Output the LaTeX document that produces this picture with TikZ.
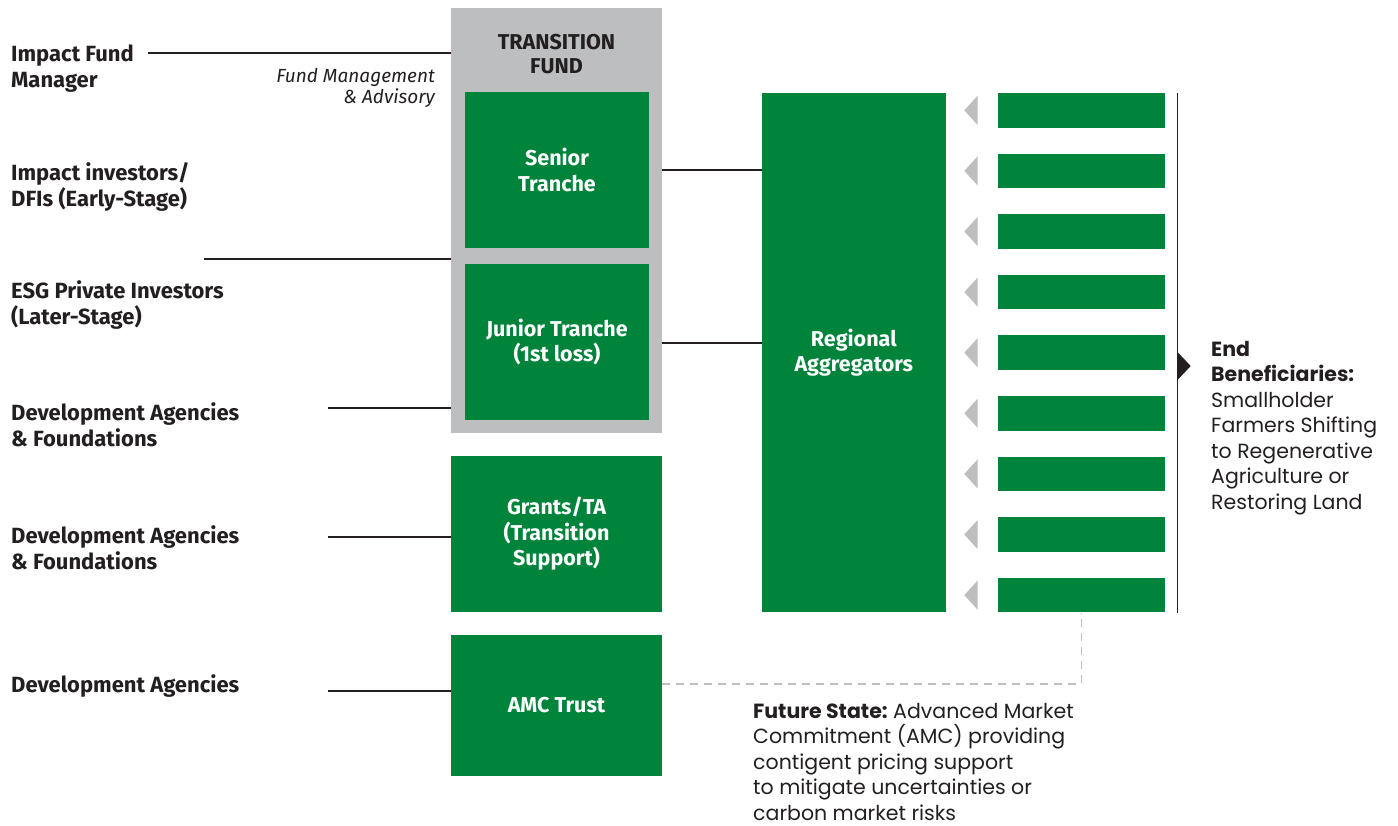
\documentclass[tikz,border=0pt]{standalone}
\usepackage{fontspec}
\setmainfont{Poppins}
\newfontfamily\condfont{Fira Sans}
\usetikzlibrary{positioning}
\definecolor{fundgreen}{HTML}{00833A}
\definecolor{fundgrey}{HTML}{BCBEC0}
\definecolor{ink}{HTML}{231F20}
\tikzset{
  greenbox/.style={fill=fundgreen, text=white, inner sep=0pt, align=center,
    font=\condfont\bfseries\fontsize{21.5}{25.5}\selectfont},
  source/.style={anchor=base west, inner sep=0pt, align=left, text=ink,
    font=\condfont\bfseries\fontsize{22}{26}\selectfont},
  note/.style={anchor=base west, inner sep=0pt, align=left, text=ink,
    font=\frenchspacing\fontsize{20.5}{25.5}\selectfont},
  link/.style={draw=ink, line width=1.2pt},
  future/.style={draw=fundgrey, line width=1.4pt, dash pattern=on 8pt off 6pt},
}

\begin{document}
\begin{tikzpicture}[x=1pt, y=-1pt]
\useasboundingbox (0,0) rectangle (1398,825);

% transition fund
\node[fill=fundgrey, minimum width=211pt, minimum height=425pt, inner sep=0pt] (fund) at (556.5,220.5) {};
\node[anchor=base, inner sep=0pt, align=center, text=ink, font=\condfont\bfseries\fontsize{21.5}{24}\selectfont] (fundtitle) at (556.5,73) {TRANSITION\\FUND};
\node[greenbox, minimum width=184pt, minimum height=156pt] (senior) at (557,170) {Senior\\Tranche};
\node[greenbox, minimum width=184pt, minimum height=156pt] (junior) at (557,342) {Junior Tranche\\(1st loss)};
\node[greenbox, minimum width=211pt, minimum height=156pt] (grants) at (556.5,534) {Grants/TA\\(Transition\\Support)};
\node[greenbox, minimum width=211pt, minimum height=141pt] (amc) at (556.5,705.5) {AMC Trust};
\node[anchor=base east, inner sep=0pt, align=right, text=ink, font=\condfont\itshape\fontsize{19}{21.5}\selectfont] (advisory) at (435,103.5) {Fund Management\\\& Advisory};

% sources
\node[source] (manager) at (11,87.7) {Impact Fund\\Manager};
\node[source] (earlyinv) at (11,206) {Impact investors/\\DFIs (Early-Stage)};
\node[source] (lateinv) at (11,324) {ESG Private Investors\\(Later-Stage)};
\node[source] (devfound1) at (11,446) {Development Agencies\\\& Foundations};
\node[source] (devfound2) at (11,569) {Development Agencies\\\& Foundations};
\node[source] (devagency) at (11,692.6) {Development Agencies};

\coordinate (managerend) at (148,53);
\coordinate (investend) at (204,259);
\coordinate (devend1) at (328,408);
\coordinate (devend2) at (328,537);
\coordinate (devend3) at (328,691);
\draw[link] (managerend) -- (managerend -| fund.west);
\draw[link] (investend) -- (investend -| fund.west);
\draw[link] (devend1) -- (devend1 -| fund.west);
\draw[link] (devend2) -- (devend2 -| grants.west);
\draw[link] (devend3) -- (devend3 -| amc.west);

% aggregators
\node[greenbox, minimum width=184pt, minimum height=519pt] (regional) at (853.8,352.5) {Regional\\Aggregators};
\draw[link] (senior.east -| fund.east) -- (senior.east -| regional.west);
\draw[link] ([yshift=-1pt]junior.east -| fund.east) -- ([yshift=-1pt]junior.east -| regional.west);

% farmers
\foreach \i in {1,...,9} {
  \pgfmathsetmacro\yc{110.3+60.6*(\i-1)}
  \node[fill=fundgreen, minimum width=167pt, minimum height=34.7pt, inner sep=0pt] (bar\i) at (1081.5,\yc) {};
  \fill[fundgrey] (964.3,\yc) -- (977.7,\yc-14.7) -- (977.7,\yc+14.7) -- cycle;
}
\coordinate (stemtop) at (1177.7,93);
\coordinate (stembot) at (1177.7,612.7);
\draw[link] (stemtop) -- (stembot);
\fill[ink] (1177,351.5) -- (1190.7,366) -- (1177,380.5) -- cycle;
\node[note] (benef) at (1211,509) {\textbf{End}\\\textbf{Beneficiaries:}\\Smallholder\\Farmers Shifting\\to Regenerative\\Agriculture or\\Restoring Land};

% future state
\coordinate (amcout) at (amc.east |- 0,684);
\draw[future] (amcout) -- (amcout -| bar9.south) -- (bar9.south);
\node[note] (futurestate) at (753,820) {\textbf{Future State:} Advanced Market\\Commitment (AMC) providing\\contigent pricing support\\to mitigate uncertainties or\\carbon market risks};
\end{tikzpicture}
\end{document}
